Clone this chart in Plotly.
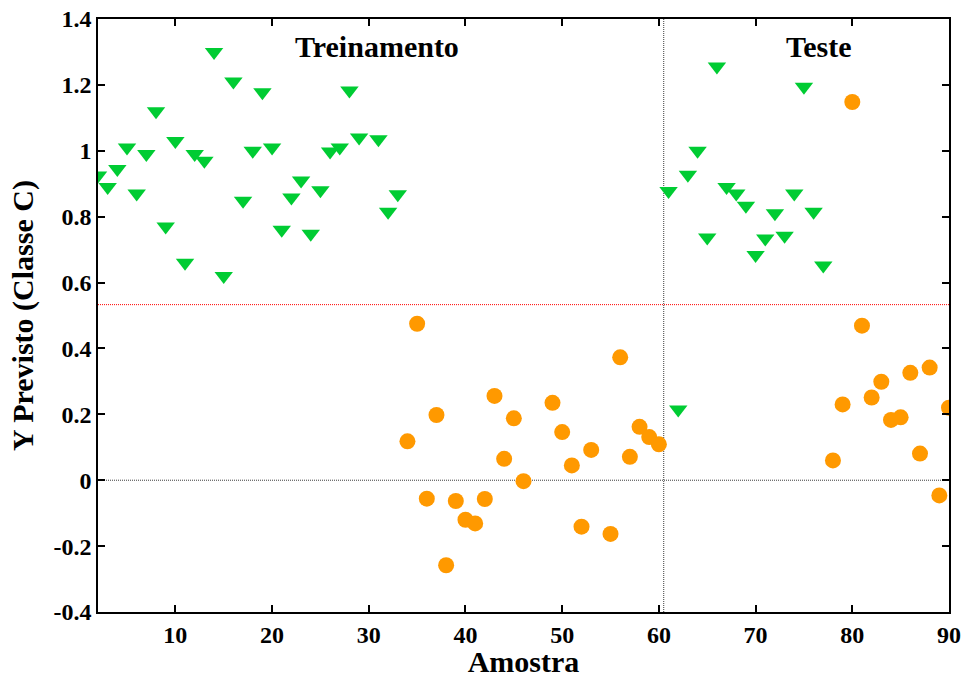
import plotly.graph_objects as go

# Amostras pertencentes à classe C (triângulos verdes)
amostra_c = [2, 3, 4, 5, 6, 7, 8, 9, 10, 11, 12, 13, 14, 15, 16, 17, 18, 19, 20,
             21, 22, 23, 24, 25, 26, 27, 28, 29, 31, 32, 33,
             61, 62, 63, 64, 65, 66, 67, 68, 69, 70, 71, 72, 73, 74, 75, 76, 77]
y_c = [0.925, 0.89, 0.945, 1.01, 0.87, 0.99, 1.12, 0.77, 1.03, 0.66, 0.99, 0.97,
       1.30, 0.62, 1.21, 0.848, 1.00, 1.178, 1.01, 0.76, 0.858, 0.91, 0.748, 0.88,
       0.998, 1.01, 1.183, 1.04, 1.035, 0.815, 0.868,
       0.878, 0.215, 0.927, 1.0, 0.737, 1.256, 0.89, 0.87, 0.833, 0.684, 0.734,
       0.81, 0.742, 0.87, 1.194, 0.815, 0.652]

# Amostras das demais classes (círculos laranja)
amostra_outras = [34, 35, 36, 37, 38, 39, 40, 41, 42, 43, 44, 45, 46, 49, 50, 51,
                  52, 53, 55, 56, 57, 58, 59, 60,
                  78, 79, 80, 81, 82, 83, 84, 85, 86, 87, 88, 89, 90]
y_outras = [0.118, 0.475, -0.056, 0.198, -0.258, -0.063, -0.12, -0.131, -0.057,
            0.256, 0.065, 0.188, -0.003, 0.235, 0.146, 0.045, -0.141, 0.092,
            -0.163, 0.373, 0.071, 0.162, 0.131, 0.109,
            0.06, 0.23, 1.148, 0.469, 0.251, 0.299, 0.183, 0.191, 0.326, 0.081,
            0.342, -0.046, 0.22]

limiar = 0.533          # limite de decisão
divisao = 60.5          # separação treinamento / teste

x_ticks = [10, 20, 30, 40, 50, 60, 70, 80, 90]
y_ticks = [-0.4, -0.2, 0, 0.2, 0.4, 0.6, 0.8, 1, 1.2, 1.4]
y_tick_text = ["-0.4", "-0.2", "0", "0.2", "0.4", "0.6", "0.8", "1", "1.2", "1.4"]

FONT = "Liberation Serif, Times New Roman, serif"

fig = go.Figure()

fig.add_trace(go.Scatter(
    x=amostra_c, y=y_c, mode="markers",
    marker=dict(symbol="triangle-down", size=16, color="rgb(0,204,51)",
                line=dict(width=0)),
    showlegend=False,
))
fig.add_trace(go.Scatter(
    x=amostra_outras, y=y_outras, mode="markers",
    marker=dict(symbol="circle", size=16, color="rgb(255,153,0)",
                line=dict(width=0)),
    showlegend=False,
))

# Linhas de referência
fine_dot = "1px,1px"
fig.add_shape(type="line", xref="x", yref="y", x0=2, x1=90, y0=0, y1=0,
              line=dict(color="rgb(60,60,60)", width=1, dash=fine_dot), layer="below")
fig.add_shape(type="line", xref="x", yref="y", x0=2, x1=90, y0=limiar, y1=limiar,
              line=dict(color="red", width=1, dash=fine_dot), layer="below")
fig.add_shape(type="line", xref="x", yref="y", x0=divisao, x1=divisao, y0=-0.4, y1=1.4,
              line=dict(color="rgb(60,60,60)", width=1, dash=fine_dot), layer="below")

fig.add_annotation(x=30.8, y=1.318, text="<b>Treinamento</b>", showarrow=False,
                   font=dict(family=FONT, size=30, color="black"))
fig.add_annotation(x=76.6, y=1.318, text="<b>Teste</b>", showarrow=False,
                   font=dict(family=FONT, size=30, color="black"))

axis_common = dict(
    showline=True, linecolor="black", linewidth=1.5, mirror="ticks",
    ticks="inside", ticklen=7, tickwidth=1.5, tickcolor="black",
    showgrid=False, zeroline=False, automargin=False,
    tickfont=dict(family=FONT, size=24, color="black", weight="bold"),
)

fig.update_layout(
    width=963, height=678,
    margin=dict(l=98, r=14, t=19, b=66),
    plot_bgcolor="white", paper_bgcolor="white",
    xaxis=dict(range=[2, 90], tickvals=x_ticks,
               title=dict(text="<b>Amostra</b>", standoff=4,
                          font=dict(family=FONT, size=30, color="black")),
               **axis_common),
    yaxis=dict(range=[-0.4, 1.4], tickvals=y_ticks, ticktext=y_tick_text,
               title=dict(text="<b>Y Previsto (Classe C)</b>", standoff=11,
                          font=dict(family=FONT, size=30, color="black")),
               **axis_common),
)

fig.write_html("out.html")
